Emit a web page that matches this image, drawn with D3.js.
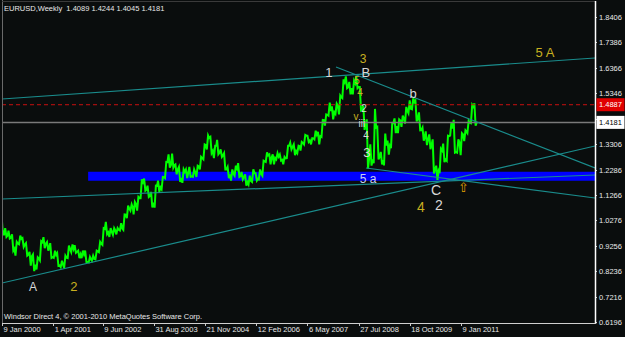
<!DOCTYPE html>
<html lang="en">
<head>
<meta charset="UTF-8">
<title>EURUSD Weekly</title>
<script src="https://d3js.org/d3.v7.min.js"></script>
<style>
  body { margin: 0; background: #0a0d0d; }
  svg { display: block; }
  .ax text { font-family: "Liberation Sans", Arial, sans-serif; font-size: 7.5px; fill: #e8e8e8; }
  .ax line { stroke: #c8c8c8; shape-rendering: crispEdges; }
  .wave { font-family: "Liberation Sans", Arial, sans-serif; text-anchor: middle; }
</style>
</head>
<body>
<div id="chart"></div>
<script>
// monthly bars, Jan 2000 .. May 2011
const firstMonth = "2000-01";
const highs = [
  1.0414,0.9950,0.9850,0.9700,0.9400,0.9650,0.9550,0.9350,0.9000,0.8900,0.8780,0.9430,
  0.9590,0.9400,0.9350,0.9050,0.8950,0.8650,0.8850,0.9250,0.9300,0.9270,0.9050,0.9050,
  0.9050,0.8800,0.8850,0.9050,0.9400,0.9950,1.0200,0.9950,0.9950,0.9950,1.0150,1.0500,
  1.0850,1.0900,1.1000,1.1200,1.1900,1.1930,1.1650,1.1400,1.1650,1.1850,1.2000,1.2600,
  1.2900,1.2930,1.2500,1.2400,1.2300,1.2300,1.2400,1.2300,1.2450,1.2800,1.3300,1.3660,
  1.3600,1.3250,1.3480,1.3100,1.2950,1.2400,1.2300,1.2450,1.2550,1.2200,1.2100,1.2050,
  1.2300,1.2150,1.2300,1.2650,1.2980,1.2900,1.2900,1.2950,1.2900,1.2800,1.3250,1.3370,
  1.3300,1.3250,1.3400,1.3680,1.3650,1.3550,1.3850,1.3800,1.4280,1.4500,1.4970,1.4820,
  1.4930,1.5250,1.5900,1.6020,1.5800,1.5850,1.6040,1.5600,1.4850,1.4300,1.3300,1.4720,
  1.4000,1.3000,1.3730,1.3450,1.4150,1.4340,1.4300,1.4450,1.4800,1.5060,1.5140,1.5050,
  1.4580,1.3970,1.3820,1.3700,1.3500,1.2450,1.3120,1.3330,1.3650,1.4160,1.4280,1.3500,
  1.3750,1.3860,1.4250,1.4880,1.4940
];
const lows = [
  0.9700,0.9600,0.9530,0.9050,0.8850,0.9300,0.9200,0.8850,0.8450,0.8230,0.8300,0.8660,
  0.9150,0.9050,0.8760,0.8760,0.8440,0.8390,0.8350,0.8750,0.8990,0.8960,0.8750,0.8750,
  0.8600,0.8580,0.8650,0.8700,0.8990,0.9280,0.9710,0.9600,0.9680,0.9700,0.9850,0.9880,
  1.0350,1.0650,1.0500,1.0650,1.1150,1.1450,1.1200,1.0780,1.0770,1.1400,1.1500,1.1950,
  1.2370,1.2370,1.2100,1.1800,1.1760,1.1950,1.2000,1.2000,1.2000,1.2300,1.2700,1.3100,
  1.2950,1.2750,1.2900,1.2800,1.2300,1.1950,1.1850,1.2050,1.2000,1.1900,1.1650,1.1700,
  1.1800,1.1850,1.1900,1.2050,1.2600,1.2500,1.2500,1.2700,1.2650,1.2500,1.2750,1.3100,
  1.2870,1.2950,1.3050,1.3300,1.3400,1.3300,1.3500,1.3300,1.3600,1.4050,1.4450,1.4300,
  1.4520,1.4500,1.5150,1.5550,1.5300,1.5300,1.5550,1.4650,1.3880,1.2330,1.2450,1.2550,
  1.2700,1.2500,1.2460,1.2890,1.3150,1.3750,1.3750,1.4000,1.4130,1.4550,1.4700,1.4220,
  1.3860,1.3450,1.3270,1.3110,1.2140,1.1880,1.2150,1.2590,1.2640,1.3650,1.2970,1.2970,
  1.2870,1.3430,1.3750,1.4150,1.4045
];
const closes = [
  0.9700,0.9650,0.9560,0.9130,0.9330,0.9520,0.9290,0.8890,0.8830,0.8490,0.8730,0.9390,
  0.9330,0.9220,0.8790,0.8880,0.8460,0.8490,0.8770,0.9110,0.9120,0.9000,0.8900,0.8900,
  0.8600,0.8700,0.8720,0.9020,0.9330,0.9920,0.9780,0.9800,0.9860,0.9880,0.9930,1.0490,
  1.0730,1.0780,1.0910,1.1150,1.1790,1.1490,1.1240,1.0970,1.1640,1.1580,1.1990,1.2590,
  1.2480,1.2470,1.2300,1.1960,1.2200,1.2170,1.2020,1.2180,1.2420,1.2750,1.3270,1.3560,
  1.3040,1.3250,1.2960,1.2870,1.2300,1.2100,1.2130,1.2330,1.2030,1.1990,1.1790,1.1840,
  1.2150,1.1920,1.2120,1.2620,1.2860,1.2790,1.2760,1.2810,1.2680,1.2740,1.3250,1.3200,
  1.3030,1.3230,1.3360,1.3650,1.3460,1.3540,1.3690,1.3630,1.4270,1.4480,1.4630,1.4590,
  1.4850,1.5180,1.5790,1.5590,1.5550,1.5750,1.5600,1.4670,1.4090,1.2740,1.2700,1.3970,
  1.2800,1.2670,1.3250,1.3240,1.4150,1.4030,1.4260,1.4340,1.4640,1.4720,1.5000,1.4330,
  1.3870,1.3620,1.3510,1.3290,1.2290,1.2240,1.3050,1.2690,1.3630,1.3930,1.2990,1.3380,
  1.3700,1.3800,1.4170,1.4810,1.4181
];

const priceTicks = [1.8406, 1.7386, 1.6366, 1.5346, 1.4326, 1.3306, 1.2286, 1.1266, 1.0276, 0.9256, 0.8236, 0.7216, 0.6196];
const dateTicks = ["2000-01-09", "2001-04-01", "2002-06-09", "2003-08-31", "2004-11-21",
                   "2006-02-12", "2007-05-06", "2008-07-27", "2009-10-18", "2011-01-09"];

const lastPrice = 1.4181;
const alertPrice = 1.4887;
const title = "EURUSD,Weekly  1.4089 1.4244 1.4045 1.4181";
const footer = "Windsor Direct 4, \u00a9 2001-2010 MetaQuotes Software Corp.";

// support zone (blue rectangle)
const zone = { from: "2002-02-01", top: 1.2206, bottom: 1.1846 };

// trend lines: [date, price] -> [date, price]
const trendLines = [
  [["2000-01-09", 1.5116], ["2014-03-27", 1.6756]],
  [["2000-01-09", 0.7756], ["2014-03-27", 1.3236]],
  [["2000-01-09", 1.1116], ["2014-03-27", 1.2076]],
  [["2008-01-11", 1.6396], ["2014-03-27", 1.2356]],
  [["2008-09-29", 1.2356], ["2014-03-27", 1.1156]]
];

// wave labels: text, date, price, colour, size
const waveLabels = [
  ["A",   "2000-10-06", 0.7436, "#d8d8d8", 12],
  ["2",   "2001-09-30", 0.7436, "#c8b020", 13],
  ["1",   "2007-11-10", 1.5996, "#d8d8d8", 13],
  ["B",   "2008-09-29", 1.5996, "#d8d8d8", 13],
  ["3",   "2008-09-03", 1.6556, "#c8b020", 12],
  ["5",   "2008-07-13", 1.5716, "#c8b020", 10],
  ["4",   "2008-08-08", 1.5236, "#c8b020", 10],
  ["2",   "2008-09-12", 1.4596, "#d8d8d8", 10],
  ["v",   "2008-07-04", 1.4276, "#c8b020", 10],
  ["iii", "2008-08-25", 1.3996, "#d8d8d8", 10],
  ["4",   "2008-09-29", 1.3516, "#d8d8d8", 10],
  ["3",   "2008-10-08", 1.2796, "#d8d8d8", 13],
  ["b",   "2009-11-15", 1.5156, "#d8d8d8", 13],
  ["5 a", "2008-10-17", 1.1756, "#c8d0f0", 12],
  ["C",   "2010-06-04", 1.1276, "#d8d8d8", 14],
  ["4",   "2010-01-24", 1.0596, "#c8b020", 14],
  ["2",   "2010-06-30", 1.0676, "#d8d8d8", 14],
  ["5 A", "2013-01-13", 1.6796, "#c8b020", 13]
];
const arrowMark = ["\u21e7", "2011-02-04", 1.1396, "#e0a000", 13];

const W = 625, H = 337;
const plot = { left: 2, right: 595, top: 2, bottom: 323 };
const parse = d3.utcParse("%Y-%m-%d");

const x = d3.scaleUtc()
  .domain([parse("2000-01-09"), parse("2011-01-09")])
  .range([2, 461]);
const y = d3.scaleLinear()
  .domain([0.6196, 1.8406])
  .range([322, 16.75]);

const svg = d3.select("#chart").append("svg")
  .attr("width", W).attr("height", H);

svg.append("rect").attr("width", W).attr("height", H).attr("fill", "#0a0d0d");

svg.append("clipPath").attr("id", "clip")
  .append("rect")
  .attr("x", plot.left).attr("y", plot.top)
  .attr("width", plot.right - plot.left).attr("height", plot.bottom - plot.top);

const g = svg.append("g").attr("clip-path", "url(#clip)");

// blue zone
g.append("rect")
  .attr("x", x(parse(zone.from)))
  .attr("y", y(zone.top))
  .attr("width", plot.right - x(parse(zone.from)))
  .attr("height", y(zone.bottom) - y(zone.top))
  .attr("fill", "#0000ff");

// price path: per month the two extremes in order, then the close
const m0 = d3.utcParse("%Y-%m")(firstMonth);
const pts = [];
closes.forEach((c, i) => {
  const m = d3.utcMonth.offset(m0, i);
  const up = i > 0 && c >= closes[i - 1];
  const a = up ? lows[i] : highs[i];
  const b = up ? highs[i] : lows[i];
  pts.push([d3.utcDay.offset(m, 5), a]);
  pts.push([d3.utcDay.offset(m, 16), b]);
  pts.push([d3.utcDay.offset(m, 26), c]);
});

g.append("path")
  .datum(pts)
  .attr("fill", "none")
  .attr("stroke", "#00ff00")
  .attr("stroke-width", 2)
  .attr("stroke-linejoin", "miter")
  .attr("d", d3.line().x(d => x(d[0])).y(d => y(d[1])));

// current price line + alert level
g.append("line")
  .attr("x1", plot.left).attr("x2", plot.right)
  .attr("y1", y(lastPrice)).attr("y2", y(lastPrice))
  .attr("stroke", "#7a7a7a").attr("stroke-width", 1.5);

g.append("line")
  .attr("x1", plot.left).attr("x2", plot.right)
  .attr("y1", y(alertPrice)).attr("y2", y(alertPrice))
  .attr("stroke", "#c81010").attr("stroke-dasharray", "4,3");

// trend lines
g.selectAll(".trend")
  .data(trendLines)
  .enter().append("line")
  .attr("class", "trend")
  .attr("x1", d => x(parse(d[0][0]))).attr("y1", d => y(d[0][1]))
  .attr("x2", d => x(parse(d[1][0]))).attr("y2", d => y(d[1][1]))
  .attr("stroke", "#1a8c8c").attr("stroke-width", 1.2);

// wave labels
g.selectAll(".wave")
  .data(waveLabels.concat([arrowMark]))
  .enter().append("text")
  .attr("class", "wave")
  .attr("x", d => x(parse(d[1])))
  .attr("y", d => y(d[2]))
  .attr("fill", d => d[3])
  .attr("font-size", d => d[4] + "px")
  .attr("font-family", d => d[0] === "\u21e7" ? "DejaVu Sans" : null)
  .text(d => d[0]);

// frame
svg.append("line").attr("x1", 2.5).attr("x2", 2.5).attr("y1", 0).attr("y2", plot.bottom)
  .attr("stroke", "#6a6a6a");
svg.append("line").attr("x1", plot.left).attr("x2", plot.right).attr("y1", 1.5).attr("y2", 1.5)
  .attr("stroke", "#3a3a3a");

// right price axis
const yAxis = svg.append("g")
  .attr("class", "ax")
  .attr("transform", `translate(${plot.right},0)`)
  .call(d3.axisRight(y).tickValues(priceTicks).tickSize(2).tickPadding(2)
    .tickFormat(d3.format(".4f")));
yAxis.select(".domain").remove();
yAxis.selectAll("text").attr("dy", "0.34em");

svg.append("line")
  .attr("x1", plot.right + 0.5).attr("x2", plot.right + 0.5)
  .attr("y1", 1).attr("y2", plot.bottom + 1)
  .attr("stroke", "#ffffff").attr("stroke-width", 1.5);

// price tags
const tags = [[alertPrice, "#e00000", "#ffffff"], [lastPrice, "#ffffff", "#000000"]];
const tag = svg.selectAll(".tag").data(tags).enter().append("g").attr("class", "ax tag");
tag.append("rect")
  .attr("x", plot.right + 1.5).attr("y", d => y(d[0]) - 6.5)
  .attr("width", 28).attr("height", 13)
  .attr("fill", d => d[1]);
tag.append("text")
  .attr("x", plot.right + 4).attr("y", d => y(d[0])).attr("dy", "0.34em")
  .style("fill", d => d[2])
  .text(d => d3.format(".4f")(d[0]));

// bottom time axis
const xAxis = svg.append("g")
  .attr("class", "ax")
  .attr("transform", `translate(0,${plot.bottom})`)
  .call(d3.axisBottom(x).tickValues(dateTicks.map(parse)).tickSize(3)
    .tickFormat(d3.utcFormat("%-d %b %Y")));
xAxis.select(".domain").remove();
xAxis.selectAll("text").attr("text-anchor", "start").attr("x", 1).attr("y", 4).attr("dy", "0.71em");

svg.append("line")
  .attr("x1", plot.left).attr("x2", plot.right + 1)
  .attr("y1", plot.bottom + 0.5).attr("y2", plot.bottom + 0.5)
  .attr("stroke", "#d0d0d0");

// title + footer
svg.append("text").attr("x", 4).attr("y", 10.5)
  .style("font-family", "'Liberation Sans', Arial, sans-serif").style("font-size", "7.5px").style("fill", "#e8e8e8")
  .style("white-space", "pre")
  .text(title);
svg.append("text").attr("x", 4).attr("y", 319)
  .style("font-family", "'Liberation Sans', Arial, sans-serif").style("font-size", "7.5px").style("fill", "#e8e8e8")
  .text(footer);
</script>
</body>
</html>
